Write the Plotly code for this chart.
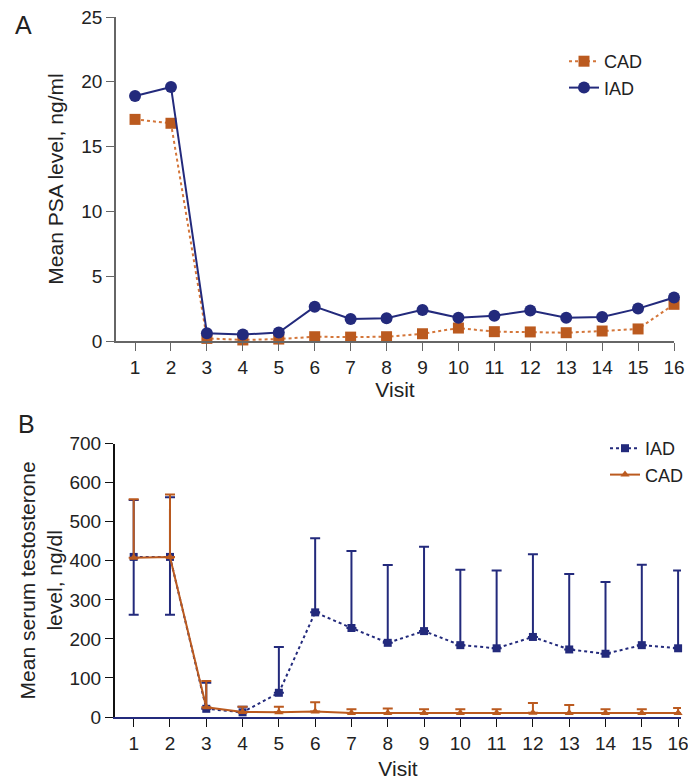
import plotly.graph_objects as go

visits = list(range(1, 17))

# panel A - mean PSA (ng/ml)
psa_cad = [17.1, 16.8, 0.2, 0.08, 0.15, 0.33, 0.3, 0.33, 0.56, 1.0, 0.72, 0.7, 0.64, 0.77, 0.93, 2.83]
psa_iad = [18.9, 19.6, 0.6, 0.5, 0.65, 2.65, 1.7, 1.75, 2.4, 1.8, 1.95, 2.35, 1.8, 1.85, 2.5, 3.35]

# panel B - mean serum testosterone (ng/dl) with error bars
t_iad = [410, 410, 21, 12, 62, 268, 228, 190, 220, 184, 176, 205, 173, 162, 184, 176]
t_iad_up = [146, 153, 67, 14, 117, 190, 197, 199, 216, 193, 199, 212, 193, 184, 206, 199]
t_iad_down = [148, 148, 0, 0, 0, 0, 0, 0, 0, 0, 0, 0, 0, 0, 0, 0]
t_cad = [408, 410, 25, 13, 12, 14, 10, 10, 10, 10, 10, 11, 10, 10, 10, 10]
t_cad_up = [150, 160, 67, 13, 14, 24, 10, 12, 10, 10, 10, 25, 21, 10, 10, 13]

navy = "#232a7c"
orange = "#bb5a1f"
font = "Liberation Sans, Arial, sans-serif"

W, H = 688, 780
L, R, T, B = 115, 681, 17, 717  # plotting area in pixels


def px(x):
    return (x - L) / (R - L)


def py(y):
    return 1 - (y - T) / (B - T)


fig = go.Figure()

fig.add_trace(go.Scatter(x=visits, y=psa_cad, name="CAD", mode="lines+markers",
                         line=dict(color="#d4763a", width=2, dash="dot"),
                         marker=dict(symbol="square", size=11, color=orange),
                         cliponaxis=False, legend="legend", xaxis="x", yaxis="y"))
fig.add_trace(go.Scatter(x=visits, y=psa_iad, name="IAD", mode="lines+markers",
                         line=dict(color=navy, width=2),
                         marker=dict(symbol="circle", size=12, color=navy),
                         cliponaxis=False, legend="legend", xaxis="x", yaxis="y"))

fig.add_trace(go.Scatter(x=visits, y=t_iad, name="IAD", mode="lines+markers",
                         line=dict(color=navy, width=2, dash="dot"),
                         marker=dict(symbol="square", size=8, color=navy),
                         error_y=dict(type="data", array=t_iad_up, arrayminus=t_iad_down,
                                      color=navy, thickness=2, width=5),
                         cliponaxis=False, legend="legend2", xaxis="x2", yaxis="y2"))
fig.add_trace(go.Scatter(x=visits, y=t_cad, name="CAD", mode="lines+markers",
                         line=dict(color=orange, width=2),
                         marker=dict(symbol="triangle-up", size=8, color=orange),
                         error_y=dict(type="data", array=t_cad_up, arrayminus=[0] * 16,
                                      color=orange, thickness=2, width=5),
                         cliponaxis=False, legend="legend2", xaxis="x2", yaxis="y2"))

tickfont = dict(family=font, size=19, color="#222")
titlefont = dict(family=font, size=21, color="#222")

fig.update_layout(
    width=W, height=H,
    margin=dict(l=L, r=W - R, t=T, b=H - B, autoexpand=False),
    paper_bgcolor="white", plot_bgcolor="white",
    font=dict(family=font, color="#222"),
    xaxis=dict(domain=[px(116), px(674)], range=[0.47, 16], tickvals=visits, automargin=False,
               showgrid=False, zeroline=False, showline=True, linecolor="#666", linewidth=1.5,
               ticks="outside", ticklen=8, tickcolor="#666", tickfont=tickfont,
               ticklabeloverflow="allow",
               title=dict(text="Visit", font=titlefont, standoff=4), anchor="y"),
    yaxis=dict(domain=[py(341), py(17)], range=[0, 25], tickvals=[0, 5, 10, 15, 20, 25],
               automargin=False,
               showgrid=False, zeroline=False, showline=True, linecolor="#666", linewidth=1.5,
               ticks="outside", ticklen=8, tickcolor="#666", tickfont=tickfont,
               title=dict(text="Mean PSA level, ng/ml", font=titlefont, standoff=12), anchor="x"),
    xaxis2=dict(domain=[0, 1], range=[0.485, 16.08], tickvals=visits, automargin=False,
                showgrid=False, zeroline=False, showline=True, linecolor=navy, linewidth=2,
                ticks="outside", ticklen=8, tickcolor="#111", tickfont=tickfont,
                ticklabeloverflow="allow",
                title=dict(text="Visit", font=titlefont, standoff=10), anchor="y2"),
    yaxis2=dict(domain=[0, py(443.7)], range=[0, 700], automargin=False,
                tickvals=[0, 100, 200, 300, 400, 500, 600, 700],
                showgrid=False, zeroline=False, showline=True, linecolor="#111", linewidth=2,
                ticks="outside", ticklen=8, tickcolor="#111", tickfont=tickfont,
                title=dict(text="Mean serum testosterone<br>level, ng/dl", font=titlefont, standoff=1),
                anchor="x2"),
    legend=dict(x=px(564), y=py(43), xanchor="left", yanchor="top",
                font=dict(family=font, size=18, color="#222"), bgcolor="rgba(0,0,0,0)",
                tracegroupgap=0, itemwidth=30),
    legend2=dict(x=px(605), y=py(430), xanchor="left", yanchor="top",
                 font=dict(family=font, size=18, color="#222"), bgcolor="rgba(0,0,0,0)",
                 tracegroupgap=0, itemwidth=30),
    annotations=[
        dict(text="A", x=px(23), y=py(25), xref="paper", yref="paper", showarrow=False,
             xanchor="center", yanchor="middle",
             font=dict(family=font, size=25, color="#222")),
        dict(text="B", x=px(26), y=py(424), xref="paper", yref="paper", showarrow=False,
             xanchor="center", yanchor="middle",
             font=dict(family=font, size=25, color="#222")),
    ],
)

# drop the default page margin so the figure sits in the window corner
fig.write_html("out.html", config={"displayModeBar": False},
               post_script="document.body.style.margin='0';document.body.style.overflow='hidden';")
